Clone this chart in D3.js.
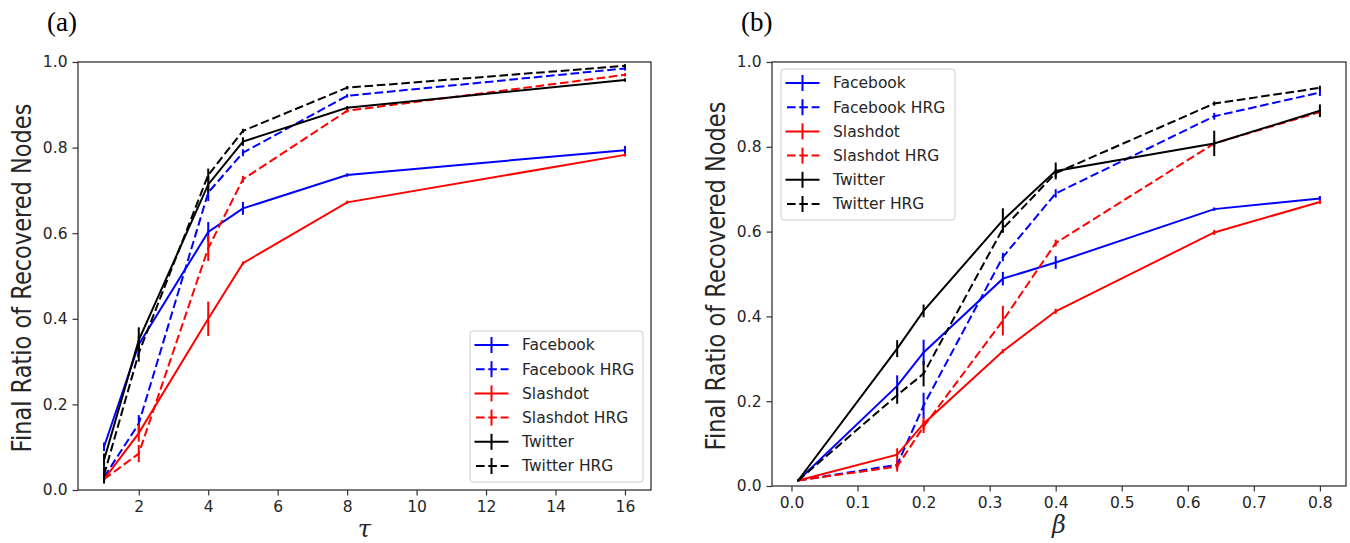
<!DOCTYPE html>
<html><head><meta charset="utf-8">
<script src="https://cdn.jsdelivr.net/npm/d3@7"></script>
<style>body{margin:0;background:#fff;} svg{display:block;font-family:"DejaVu Sans",sans-serif;}</style>
</head><body><svg id="c" width="1350" height="543"></svg>
<script>
// ---------- data ----------
const seriesNames = ["Facebook","Facebook HRG","Slashdot","Slashdot HRG","Twitter","Twitter HRG"];
const seriesColors = ["#0000ff","#0000ff","#ff0000","#ff0000","#000000","#000000"];
const seriesDashed = [false,true,false,true,false,true];

const tauValues = [1,2,4,5,8,16];
const tauFacebook    = [0.101,0.34,0.603,0.658,0.736,0.794];
const tauFacebookHRG = [0.030,0.155,0.695,0.788,0.921,0.985];
const tauSlashdot    = [0.025,0.133,0.400,0.530,0.672,0.783];
const tauSlashdotHRG = [0.025,0.085,0.565,0.726,0.886,0.970];
const tauTwitter     = [0.070,0.350,0.714,0.814,0.893,0.958];
const tauTwitterHRG  = [0.035,0.320,0.736,0.839,0.940,0.991];
const tauErrFacebook    = [0.010,0.020,0.023,0.015,0.004,0.010];
const tauErrFacebookHRG = [0.010,0.020,0.020,0.008,0.004,0.005];
const tauErrSlashdot    = [0.004,0.020,0.040,0.004,0.004,0.004];
const tauErrSlashdotHRG = [0.004,0.020,0.030,0.008,0.004,0.004];
const tauErrTwitter     = [0.015,0.030,0.020,0.010,0.004,0.004];
const tauErrTwitterHRG  = [0.020,0.020,0.015,0.005,0.004,0.004];
const tauTicks = [2,4,6,8,10,12,14,16];

const betaValues = [0.01,0.16,0.2,0.32,0.4,0.64,0.8];
const betaFacebook    = [0.013,0.236,0.315,0.489,0.527,0.653,0.678];
const betaFacebookHRG = [0.013,0.050,0.190,0.540,0.690,0.872,0.928];
const betaSlashdot    = [0.013,0.074,0.147,0.318,0.412,0.598,0.670];
const betaSlashdotHRG = [0.013,0.046,0.140,0.390,0.573,0.808,0.882];
const betaTwitter     = [0.013,0.324,0.413,0.627,0.743,0.808,0.885];
const betaTwitterHRG  = [0.013,0.214,0.265,0.607,0.738,0.902,0.939];
const betaErrFacebook    = [0.002,0.025,0.030,0.016,0.015,0.004,0.006];
const betaErrFacebookHRG = [0.002,0.010,0.030,0.010,0.010,0.008,0.008];
const betaErrSlashdot    = [0.002,0.015,0.015,0.005,0.006,0.006,0.005];
const betaErrSlashdotHRG = [0.002,0.012,0.015,0.035,0.008,0.008,0.008];
const betaErrTwitter     = [0.002,0.020,0.015,0.028,0.020,0.030,0.015];
const betaErrTwitterHRG  = [0.002,0.020,0.030,0.010,0.010,0.005,0.005];
const betaTicks = [0.0,0.1,0.2,0.3,0.4,0.5,0.6,0.7,0.8];
const yTicks = [0.0,0.2,0.4,0.6,0.8,1.0];

// ---------- drawing ----------
const svg = d3.select("#c");
const FS = 15.5;
const TXT = "#262626";

function panel(cfg){
  const {x0,x1,y0,y1,xDomain,xs,ys,errs,xTicks,xFmt,xLabel,tag,legend} = cfg;
  const x = d3.scaleLinear().domain(xDomain).range([x0,x1]);
  const y = d3.scaleLinear().domain([0,1]).range([y1,y0]);
  const g = svg.append("g");
  // series
  ys.forEach((vals,i)=>{
    const pts = xs.map((xv,j)=>({x:xv,y:vals[j],e:errs[i][j]}));
    const line = d3.line().x(d=>x(d.x)).y(d=>y(d.y));
    g.append("path").datum(pts).attr("d",line).attr("fill","none")
      .attr("stroke",seriesColors[i]).attr("stroke-width",2)
      .attr("stroke-dasharray",seriesDashed[i]?"8.6,3.7":null);
    g.selectAll(null).data(pts).enter().append("line")
      .attr("x1",d=>x(d.x)).attr("x2",d=>x(d.x))
      .attr("y1",d=>y(d.y-d.e)).attr("y2",d=>y(d.y+d.e))
      .attr("stroke",seriesColors[i]).attr("stroke-width",2);
  });
  // frame
  g.append("rect").attr("x",x0).attr("y",y0).attr("width",x1-x0).attr("height",y1-y0)
    .attr("fill","none").attr("stroke","#333").attr("stroke-width",1.3);
  // axes
  const ax = d3.axisBottom(x).tickValues(xTicks).tickFormat(xFmt).tickSize(5.5).tickPadding(5);
  const axG = g.append("g").attr("transform",`translate(0,${y1})`).call(ax);
  const ay = d3.axisLeft(y).tickValues(yTicks).tickFormat(d3.format(".1f")).tickSize(5.5).tickPadding(5);
  const ayG = g.append("g").attr("transform",`translate(${x0},0)`).call(ay);
  [axG,ayG].forEach(a=>{
    a.select(".domain").remove();
    a.selectAll(".tick line").attr("stroke","#333").attr("stroke-width",1.2);
    a.selectAll(".tick text").attr("fill",TXT).style("font-size",FS+"px").style("font-family","DejaVu Sans");
  });
  // labels
  g.append("text").attr("x",(x0+x1)/2).attr("y",y1+47).attr("text-anchor","middle")
    .style("font-family","DejaVu Serif").style("font-style","italic").style("font-size","24px")
    .attr("fill",TXT).text(xLabel);
  g.append("text").attr("transform",`translate(${x0-47},${(y0+y1)/2+2}) rotate(-90) scale(1,1.15)`)
    .attr("text-anchor","middle").style("font-size","22.5px").attr("fill",TXT)
    .text("Final Ratio of Recovered Nodes");
  g.append("text").attr("x",cfg.tagX).attr("y",31)
    .style("font-family","Liberation Serif").style("font-size","27px").attr("fill","#000").text(tag);
  // legend
  const L = legend;
  const lg = g.append("g");
  lg.append("rect").attr("x",L.x).attr("y",L.y).attr("width",L.w).attr("height",L.h)
    .attr("rx",3).attr("fill","#fff").attr("fill-opacity",0.8).attr("stroke","#ccc").attr("stroke-width",1);
  seriesNames.forEach((n,i)=>{
    const cy = L.y + 14 + i*24.2;
    const hx0 = L.x + 4.5, hx1 = L.x + 38.5, hm = (hx0+hx1)/2;
    lg.append("line").attr("x1",hx0).attr("x2",hx1).attr("y1",cy).attr("y2",cy)
      .attr("stroke",seriesColors[i]).attr("stroke-width",2)
      .attr("stroke-dasharray",seriesDashed[i]?"8.6,3.7":null)
      .attr("stroke-dashoffset",seriesDashed[i]?-1.5:null);
    lg.append("line").attr("x1",hm).attr("x2",hm).attr("y1",cy-8).attr("y2",cy+8)
      .attr("stroke",seriesColors[i]).attr("stroke-width",2);
    lg.append("text").attr("x",L.x+52).attr("y",cy).attr("dy","0.35em")
      .style("font-size",FS+"px").attr("fill",TXT).text(n);
  });
}

panel({x0:78,x1:651,y0:62,y1:490,xDomain:[0.25,16.75],xs:tauValues,
  ys:[tauFacebook,tauFacebookHRG,tauSlashdot,tauSlashdotHRG,tauTwitter,tauTwitterHRG],
  errs:[tauErrFacebook,tauErrFacebookHRG,tauErrSlashdot,tauErrSlashdotHRG,tauErrTwitter,tauErrTwitterHRG],
  xTicks:tauTicks,xFmt:d3.format("d"),xLabel:"τ",tag:"(a)",tagX:47,
  legend:{x:470,y:331,w:173,h:151}});

panel({x0:772,x1:1346,y0:62,y1:486,xDomain:[-0.0295,0.8395],xs:betaValues,
  ys:[betaFacebook,betaFacebookHRG,betaSlashdot,betaSlashdotHRG,betaTwitter,betaTwitterHRG],
  errs:[betaErrFacebook,betaErrFacebookHRG,betaErrSlashdot,betaErrSlashdotHRG,betaErrTwitter,betaErrTwitterHRG],
  xTicks:betaTicks,xFmt:d3.format(".1f"),xLabel:"β",tag:"(b)",tagX:741,
  legend:{x:781,y:69,w:174,h:151}});
</script></body></html>
